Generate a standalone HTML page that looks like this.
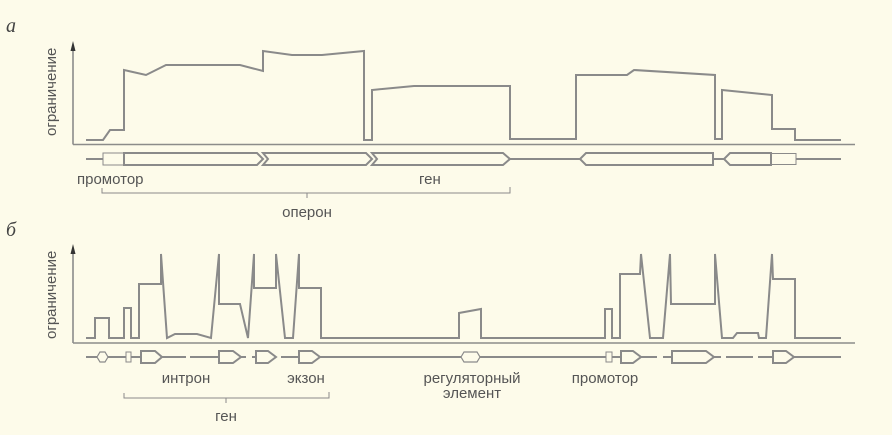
<!DOCTYPE html>
<html><head><meta charset="utf-8"><style>
html,body{margin:0;padding:0;background:#fdfbea;}
svg{display:block}
text{font-family:"Liberation Sans",sans-serif;font-size:15px;fill:#555;}
</style></head><body>
<svg width="892" height="435" viewBox="0 0 892 435" xmlns="http://www.w3.org/2000/svg">
<rect width="892" height="435" fill="#fdfbea"/>
<text x="6" y="32" style="font-family:'Liberation Serif',serif;font-style:italic;font-size:20px;fill:#444">а</text>
<text x="6" y="236" style="font-family:'Liberation Serif',serif;font-style:italic;font-size:20px;fill:#444">б</text>
<g fill="none" stroke="#8c8c8a" stroke-width="1.6">
<line x1="73" y1="50" x2="73" y2="144.5"/>
<line x1="73" y1="144.5" x2="855" y2="144.5"/>
<line x1="73" y1="252" x2="73" y2="343"/>
<line x1="73" y1="343" x2="855" y2="343"/>
</g>
<polygon points="73,41 70.5,51 75.5,51" fill="#333"/>
<polygon points="73,244 70.5,254 75.5,254" fill="#333"/>
<text transform="translate(56,136) rotate(-90)" style="font-size:15px">ограничение</text>
<text transform="translate(56,339) rotate(-90)" style="font-size:15px">ограничение</text>
<g fill="none" stroke="#8a8a8a" stroke-width="2" stroke-linejoin="miter">
<polyline points="86,140 103,140 110,130 124,130 124,70 146,75 166,65 240,65 263,71 263,51 292,55 322,55 364,51 364,140 372,140 372,90 414,86 510,86 510,139 576,139 576,75 627,75 634,70 715,75 715,139 722,139 722,90 772,95 772,129 795,129 795,140 841,140"/>
<polyline points="86,338 95,338 95,318 109,318 109,338 124,338 124,308 131,308 131,338 139,338 139,284 161,284 161,254 167,338 175,334 197,334 211,338 219,254 219,304 240,304 248,338 254,254 254,288 276,288 276,254 285,338 293,338 299,254 299,288 321,288 321,338 459,338 459,313 481,309 481,338 605,338 605,309 612,309 612,338 620,338 620,274 640,274 641,254 650,338 663,338 670,254 671,304 715,304 715,254 722,338 733,338 737,333 758,333 759,338 766,338 772,254 773,279 795,279 795,338 841,338"/>
</g>
<g fill="none" stroke="#8a8a8a" stroke-width="2">
<line x1="86" y1="159" x2="103" y2="159"/>
<path d="M124,153 H257 L263,159 L257,165 H124 Z"/>
<path d="M263,153 H366 L372,159 L366,165 H263 L268,159 Z"/>
<path d="M372,153 H503 L510,159 L503,165 H372 L377,159 Z"/>
<line x1="510" y1="159" x2="580" y2="159"/>
<path d="M713,153 H586 L580,159 L586,165 H713 Z"/>
<line x1="713" y1="159" x2="724" y2="159"/>
<path d="M771,153 H730 L724,159 L730,165 H771 Z"/>
<line x1="796" y1="159" x2="841" y2="159"/>
</g>
<g fill="none" stroke="#8a8a8a" stroke-width="1">
<rect x="103" y="153" width="21" height="12"/>
<rect x="771" y="153.5" width="25" height="11"/>
</g>
<text x="77" y="184">промотор</text>
<text x="419" y="184">ген</text>
<g fill="none" stroke="#8a8a8a" stroke-width="1">
<path d="M102,188 V193 H510 V187"/>
<line x1="307" y1="193" x2="307" y2="198"/>
<path d="M124,393 V398 H329 V392"/>
<line x1="226" y1="398" x2="226" y2="403"/>
</g>
<text x="307" y="217" text-anchor="middle">оперон</text>
<g fill="none" stroke="#8a8a8a" stroke-width="2">
<line x1="86" y1="357" x2="97" y2="357"/>
<path d="M97,357 L100,352 H105 L108,357 L105,362 H100 Z" stroke-width="1.2"/>
<line x1="108" y1="357" x2="126" y2="357"/>
<line x1="131" y1="357" x2="141" y2="357"/>
<path d="M141,351 H155 L162,357 L155,363 H141 Z"/>
<line x1="162" y1="357" x2="186" y2="357"/>
<line x1="190" y1="357" x2="219" y2="357"/>
<path d="M219,351 H233 L241,357 L233,363 H219 Z"/>
<line x1="241" y1="357" x2="246" y2="357"/>
<line x1="252" y1="357" x2="256" y2="357"/>
<path d="M256,351 H268 L276,357 L268,363 H256 Z"/>
<line x1="281" y1="357" x2="299" y2="357"/>
<path d="M299,351 H312 L320,357 L312,363 H299 Z"/>
<line x1="320" y1="357" x2="461" y2="357"/>
<path d="M461,357 L464,352 H477 L480,357 L477,362 H464 Z" stroke-width="1.2"/>
<line x1="480" y1="357" x2="606" y2="357"/>
<line x1="612" y1="357" x2="621" y2="357"/>
<path d="M621,351 H633 L641,357 L633,363 H621 Z"/>
<line x1="641" y1="357" x2="657" y2="357"/>
<line x1="663" y1="357" x2="672" y2="357"/>
<path d="M672,351 H706 L714,357 L706,363 H672 Z"/>
<line x1="714" y1="357" x2="721" y2="357"/>
<line x1="726" y1="357" x2="753" y2="357"/>
<line x1="758" y1="357" x2="773" y2="357"/>
<path d="M773,351 H786 L794,357 L786,363 H773 Z"/>
<line x1="794" y1="357" x2="841" y2="357"/>
</g>
<g fill="none" stroke="#8a8a8a" stroke-width="1">
<rect x="126" y="352" width="5" height="10"/>
<rect x="606" y="352" width="6" height="10"/>
</g>
<text x="186" y="383" text-anchor="middle">интрон</text>
<text x="306" y="383" text-anchor="middle">экзон</text>
<text x="472" y="383" text-anchor="middle">регуляторный</text>
<text x="472" y="398" text-anchor="middle">элемент</text>
<text x="605" y="383" text-anchor="middle">промотор</text>
<text x="226" y="421" text-anchor="middle">ген</text>
</svg>
</body></html>
